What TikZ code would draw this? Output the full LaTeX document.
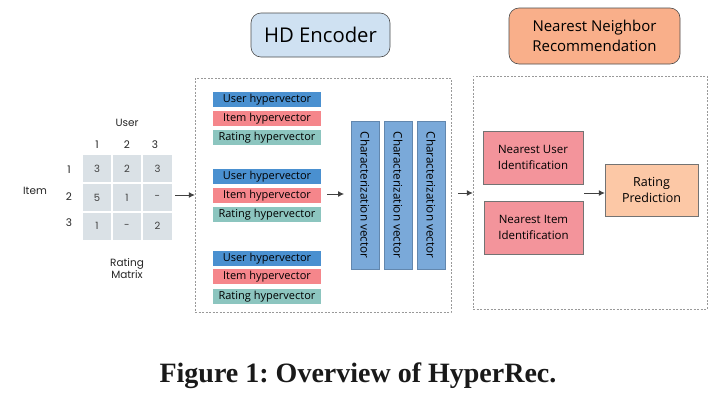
\documentclass[tikz,border=0pt]{standalone}
\usepackage{fontspec}
\setmainfont{Liberation Serif}
\newfontfamily\uifont{Open Sans}
\newfontfamily\geofont{Poppins}
\usetikzlibrary{arrows.meta}
\definecolor{userc}{HTML}{4A90D0}
\definecolor{itemc}{HTML}{F5868B}
\definecolor{ratc}{HTML}{8CC5BF}
\definecolor{charc}{HTML}{7AA9D9}
\definecolor{nnc}{HTML}{F3949B}
\definecolor{predc}{HTML}{FCC8A6}
\definecolor{hdc}{HTML}{CFE1F2}
\definecolor{nnhead}{HTML}{F9AF8A}
\definecolor{cellc}{HTML}{DAE1E6}
\tikzset{
  x=1pt, y=-1pt,
  bar/.style={minimum width=108pt, minimum height=15pt, inner sep=0pt, font=\uifont\fontsize{11}{12}\selectfont},
  ubar/.style={bar, fill=userc},
  ibar/.style={bar, fill=itemc},
  rbar/.style={bar, fill=ratc},
  charbox/.style={fill=charc, draw=charc!80!black, line width=0.4pt, minimum width=148pt, minimum height=28pt, inner sep=0pt, rotate=-90, font=\uifont\fontsize{11.7}{12}\selectfont},
  cell/.style={fill=cellc, draw=white, line width=1.5pt, minimum width=30pt, minimum height=28.5pt, inner sep=0pt, font=\geofont\fontsize{10}{11}\selectfont, text=black!75},
  lab/.style={font=\geofont\fontsize{10.5}{11}\selectfont, inner sep=0pt, text=black!85},
  dbox/.style={draw=gray!80, dashed, line width=0.5pt, dash pattern=on 2pt off 1.5pt},
  arr/.style={-{Latex[length=6pt,width=6pt]}, draw=black!75, line width=0.8pt},
  idbox/.style={fill=nnc, draw=black!55, line width=0.5pt, align=center, inner sep=0pt, font=\uifont\fontsize{11.5}{15.5}\selectfont},
  head/.style={rounded corners=10pt, draw=black!70, line width=0.6pt, inner sep=0pt, align=center},
}
\begin{document}
\begin{tikzpicture}
\useasboundingbox (0,0) rectangle (716,402);
\fill[white] (0,0) rectangle (716,402);

% headers
\node[head, fill=hdc, minimum width=139pt, minimum height=44pt, font=\uifont\fontsize{20.3}{22}\selectfont] (hd) at (320.5,35) {HD Encoder};
\node[head, fill=nnhead, minimum width=171pt, minimum height=56pt, font=\uifont\fontsize{15}{19.5}\selectfont] (nn) at (594.5,36) {Nearest Neighbor\\Recommendation};

% dashed boxes
\node[dbox, minimum width=256pt, minimum height=234pt, inner sep=0pt] (enc) at (323,195) {};
\node[dbox, minimum width=234pt, minimum height=233pt, inner sep=0pt] (rec) at (590,192.5) {};

% rating matrix
\node[cell] (c11) at (97,168.5) {3};
\node[cell] (c12) at (127,168.5) {2};
\node[cell] (c13) at (157.5,168.5) {3};
\node[cell] (c21) at (97,197.5) {5};
\node[cell] (c22) at (127,197.5) {1};
\node[cell] (c23) at (157.5,197.5) {-};
\node[cell] (c31) at (97,226) {1};
\node[cell] (c32) at (127,226) {-};
\node[cell] (c33) at (157.5,226) {2};
\node[lab] (uh) at (127,123) {User};
\node[lab] (h1) at (97,145) {1};
\node[lab] (h2) at (127,145) {2};
\node[lab] (h3) at (155,145) {3};
\node[lab] (r1) at (69,170) {1};
\node[lab] (r2) at (69,197) {2};
\node[lab] (r3) at (69,223) {3};
\node[lab] (ih) at (35,191) {Item};
\node[lab, align=center, font=\geofont\fontsize{10.5}{12}\selectfont] (rm) at (127,269) {Rating\\Matrix};

% hypervectors
\node[ubar] (u1) at (267,99.5) {User hypervector};
\node[ibar] (i1) at (267,118.5) {Item hypervector};
\node[rbar] (t1) at (267,137.5) {Rating hypervector};
\node[ubar] (u2) at (267,176.5) {User hypervector};
\node[ibar] (i2) at (267,195.5) {Item hypervector};
\node[rbar] (t2) at (267,214.5) {Rating hypervector};
\node[ubar] (u3) at (267,258.5) {User hypervector};
\node[ibar] (i3) at (267,276.5) {Item hypervector};
\node[rbar] (t3) at (267,296.5) {Rating hypervector};

% characterization vectors
\node[charbox] (v1) at (365,195) {Characterization vector};
\node[charbox] (v2) at (398,195) {Characterization vector};
\node[charbox] (v3) at (431,195) {Characterization vector};

% recommendation
\node[idbox, minimum width=100pt, minimum height=53pt] (nu) at (533,157.5) {Nearest User\\Identification};
\node[idbox, minimum width=99pt, minimum height=53pt] (ni) at (533.5,227.5) {Nearest Item\\Identification};
\node[idbox, fill=predc, minimum width=93pt, minimum height=52pt, font=\uifont\fontsize{12.5}{16.5}\selectfont] (rp) at (651.5,190) {Rating\\Prediction};

% arrows
\coordinate (a1s) at (175,195);
\coordinate (a2s) at (327,194);
\coordinate (a2e) at (344,194);
\coordinate (a3s) at (458,193);
\coordinate (a4s) at (584,193);
\draw[arr] (a1s) -- (enc.west |- a1s);
\draw[arr] (a2s) -- (a2e);
\draw[arr] (a3s) -- (rec.west |- a3s);
\draw[arr] (a4s) -- (rp.west |- a4s);

% caption
\node[font=\fontsize{28}{31}\selectfont\bfseries\frenchspacing, text=black!90, inner sep=0pt] (cap) at (358,376) {Figure 1: Overview of HyperRec.};
\end{tikzpicture}
\end{document}
